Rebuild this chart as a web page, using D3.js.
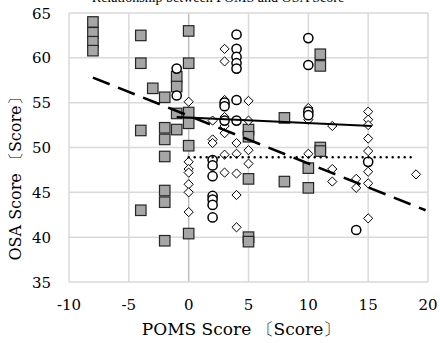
<!DOCTYPE html>
<html>
<head>
<meta charset="utf-8">
<script src="https://cdn.jsdelivr.net/npm/d3@7"></script>
<style>
  body { margin: 0; background: #fff; }
  text { font-family: "DejaVu Serif", "Liberation Serif", serif; fill: #000; }
</style>
</head>
<body>
<div id="chart"></div>
<script>
// squares (grey)
const squareX = [-8, -8, -8, -8, -4, -4, -4, -4, -3, -2, -2, -2, -2, -2, -2, -2, -1, -1, -1, -1, 0, 0, 0, 0, 0, 0, 5, 5, 5, 5, 5, 8, 8, 10, 10, 11, 11, 11, 11];
const squareY = [64.0, 62.8, 61.8, 60.8, 62.5, 59.4, 51.9, 43.0, 56.6, 55.6, 52.2, 50.9, 49.0, 45.2, 43.9, 39.6, 57.9, 56.8, 53.8, 52.0, 63.0, 59.4, 53.9, 52.7, 50.2, 40.4, 52.0, 51.2, 46.5, 40.0, 39.5, 53.3, 46.2, 47.7, 45.5, 60.4, 59.1, 50.0, 49.6];

// circles (white)
const circleX = [-1, -1, 2, 2, 2, 2, 2, 2, 2, 3, 3, 3, 4, 4, 4, 4, 4, 4, 4, 10, 10, 10, 10, 14, 15];
const circleY = [58.8, 55.8, 48.6, 48.0, 46.8, 44.6, 44.2, 43.6, 42.2, 55.0, 54.6, 53.0, 62.6, 61.0, 60.1, 59.4, 58.8, 55.3, 53.0, 62.2, 59.2, 54.0, 53.6, 40.8, 48.4];

// diamonds (white)
const diamondX = [0, 0, 0, 0, 0, 0, 0, 2, 2, 2, 3, 3, 3, 3, 3, 3, 3, 3, 4, 4, 4, 4, 4, 5, 5, 5, 5, 10, 10, 10, 12, 12, 12, 14, 14, 15, 15, 15, 15, 15, 15, 15, 15, 19];
const diamondY = [55.1, 48.4, 47.6, 47.2, 45.9, 45.0, 42.8, 53.0, 50.9, 50.5, 61.0, 59.6, 55.3, 53.4, 52.4, 51.6, 49.2, 47.2, 50.5, 49.3, 47.1, 44.7, 41.1, 55.2, 53.0, 49.7, 48.2, 54.4, 53.1, 49.3, 52.4, 47.6, 46.2, 46.5, 45.5, 54.0, 53.1, 52.5, 51.0, 49.6, 47.3, 46.0, 42.1, 47.0];

// trend lines: [x1, y1, x2, y2]
const dashedLine = [-8, 57.8, 19.8, 43.0];
const solidLine = [-1, 53.4, 15.3, 52.4];
const dottedLine = [0, 48.9, 19, 48.9];

const xTicks = [-10, -5, 0, 5, 10, 15, 20];
const yTicks = [35, 40, 45, 50, 55, 60, 65];

const width = 440, height = 343;
const margin = {left: 69, right: 12, top: 13, bottom: 61};

const svg = d3.select('#chart').append('svg')
  .attr('width', width)
  .attr('height', height);

const x = d3.scaleLinear().domain([-10, 20]).range([margin.left, width - margin.right]);
const y = d3.scaleLinear().domain([35, 65]).range([height - margin.bottom, margin.top]);

// title, mostly outside the picture like in the source
svg.append('text')
  .attr('x', 218).attr('y', 2)
  .attr('text-anchor', 'middle')
  .style('font-family', '"Liberation Serif", serif')
  .style('font-size', '14px')
  .text('Relationship between POMS and OSA Score');

// grid
svg.append('g').selectAll('line').data(xTicks).join('line')
  .attr('x1', d => x(d)).attr('x2', d => x(d))
  .attr('y1', y(35)).attr('y2', y(65))
  .attr('stroke', d => d === 0 ? '#bfbfbf' : '#d9d9d9')
  .attr('stroke-width', 1.5);

svg.append('g').selectAll('line').data(yTicks).join('line')
  .attr('x1', x(-10)).attr('x2', x(20))
  .attr('y1', d => y(d)).attr('y2', d => y(d))
  .attr('stroke', '#d9d9d9')
  .attr('stroke-width', 1.5);

// tick labels
svg.append('g').selectAll('text').data(xTicks).join('text')
  .attr('x', d => x(d)).attr('y', 310)
  .attr('text-anchor', 'middle')
  .style('font-size', '15px')
  .text(d => d);

svg.append('g').selectAll('text').data(yTicks).join('text')
  .attr('x', 51).attr('y', d => y(d) + 5.5)
  .attr('text-anchor', 'end')
  .style('font-size', '15px')
  .text(d => d);

// axis titles
svg.append('text')
  .attr('x', 241).attr('y', 335)
  .attr('text-anchor', 'middle')
  .style('font-size', '17px')
  .text('POMS Score 〔Score〕');

svg.append('text')
  .attr('transform', `translate(21, 175) rotate(-90)`)
  .attr('text-anchor', 'middle')
  .style('font-size', '16px')
  .text('OSA Score 〔Score〕');

// markers
const sq = 10.5;
svg.append('g').selectAll('rect').data(squareX).join('rect')
  .attr('x', (d, i) => x(d) - sq / 2)
  .attr('y', (d, i) => y(squareY[i]) - sq / 2)
  .attr('width', sq).attr('height', sq)
  .attr('fill', '#a6a6a6')
  .attr('stroke', '#262626')
  .attr('stroke-width', 1.2);

const dm = 4.6;
svg.append('g').selectAll('path').data(diamondX).join('path')
  .attr('d', (d, i) => {
    const cx = x(d), cy = y(diamondY[i]);
    return `M${cx},${cy - dm}L${cx + dm},${cy}L${cx},${cy + dm}L${cx - dm},${cy}Z`;
  })
  .attr('fill', '#fff')
  .attr('stroke', '#000')
  .attr('stroke-width', 1);

svg.append('g').selectAll('circle').data(circleX).join('circle')
  .attr('cx', d => x(d))
  .attr('cy', (d, i) => y(circleY[i]))
  .attr('r', 4.6)
  .attr('fill', '#fff')
  .attr('stroke', '#000')
  .attr('stroke-width', 1.5);

// trend lines
function trend(l) {
  return svg.append('line')
    .attr('x1', x(l[0])).attr('y1', y(l[1]))
    .attr('x2', x(l[2])).attr('y2', y(l[3]))
    .attr('stroke', '#000');
}
trend(dashedLine).attr('stroke-width', 2.5).attr('stroke-dasharray', '18,9');
trend(solidLine).attr('stroke-width', 2);
trend(dottedLine).attr('stroke-width', 2.5).attr('stroke-dasharray', '0,6').attr('stroke-linecap', 'round');
</script>
</body>
</html>
